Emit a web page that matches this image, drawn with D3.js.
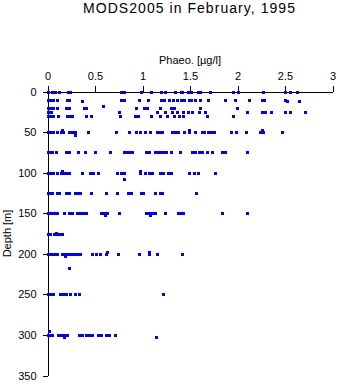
<!DOCTYPE html>
<html>
<head>
<meta charset="utf-8">
<script src="https://cdn.jsdelivr.net/npm/d3@7"></script>
<style>
  body { margin: 0; background: #fff; }
  svg text { font-family: "Liberation Sans", Arial, sans-serif; fill: #000; }
</style>
</head>
<body>
<div id="chart"></div>
<script>
// standard sampling depths [m]
const depthLevels = [0, 10, 20, 25, 30, 50, 75, 100, 125, 150, 175, 200, 250, 300];

// phaeopigment values [ug/l] per depth level
const phaeo0 = [0.01, 0.05, 0.08, 0.12, 0.22, 0.24, 0.77, 0.80, 0.98, 1.09, 1.19, 1.24, 1.34, 1.40, 1.42, 1.48, 1.51, 1.58, 1.61, 1.71, 1.95, 2.01, 2.27, 2.50, 2.55, 2.63];
const phaeo10 = [0.0, 0.03, 0.06, 0.10, 0.21, 0.23, 0.77, 0.81, 0.96, 1.06, 1.19, 1.23, 1.28, 1.32, 1.36, 1.41, 1.44, 1.49, 1.51, 1.55, 1.60, 1.69, 1.87, 1.97, 2.12, 2.26, 2.28, 2.50];
const phaeo20 = [0.0, 0.03, 0.06, 0.10, 0.19, 0.23, 0.38, 0.41, 0.93, 1.02, 1.05, 1.18, 1.30, 1.33, 1.61, 1.99];
const phaeo25 = [0.0, 0.02, 0.04, 0.75, 1.15, 1.24, 1.31, 1.36, 1.43, 1.48, 1.52, 1.59, 1.66, 2.10, 2.26, 2.29, 2.35, 2.50, 2.55, 2.71];
const phaeo30 = [0.0, 0.03, 0.06, 0.11, 0.20, 0.23, 0.26, 0.40, 0.46, 0.76, 0.92, 0.95, 1.09, 1.18, 1.26, 1.33, 1.38, 1.43, 1.68, 1.95];
const phaeo50 = [0.0, 0.03, 0.06, 0.10, 0.14, 0.16, 0.23, 0.26, 0.29, 0.43, 0.72, 0.86, 0.93, 0.97, 1.03, 1.08, 1.15, 1.18, 1.21, 1.31, 1.34, 1.37, 1.44, 1.49, 1.55, 1.63, 1.65, 1.69, 1.72, 1.75, 1.93, 1.98, 2.09, 2.24, 2.27, 2.47];
const phaeo75 = [0.0, 0.02, 0.05, 0.09, 0.19, 0.23, 0.32, 0.39, 0.50, 0.66, 0.80, 0.83, 0.86, 0.89, 1.04, 1.07, 1.13, 1.16, 1.19, 1.23, 1.25, 1.30, 1.39, 1.52, 1.55, 1.59, 1.63, 1.68, 1.73, 1.84, 1.87, 2.10];
const phaeo100 = [0.0, 0.03, 0.06, 0.10, 0.14, 0.17, 0.21, 0.23, 0.36, 0.45, 0.48, 0.53, 0.73, 0.77, 0.81, 0.97, 1.03, 1.07, 1.10, 1.18, 1.22, 1.27, 1.30, 1.49, 1.54, 1.58, 1.76];
const phaeo125 = [0.0, 0.02, 0.05, 0.10, 0.12, 0.19, 0.23, 0.29, 0.32, 0.34, 0.46, 0.62, 0.73, 0.85, 0.88, 0.98, 1.00, 1.13, 1.18, 1.21, 1.56];
const phaeo150 = [0.0, 0.01, 0.03, 0.05, 0.08, 0.10, 0.17, 0.23, 0.26, 0.31, 0.34, 0.37, 0.40, 0.56, 0.59, 0.63, 0.75, 1.04, 1.07, 1.10, 1.13, 1.24, 1.37, 1.40, 1.43, 1.84, 2.10];
const phaeo175 = [0.0, 0.03, 0.07, 0.09, 0.12, 0.15];
const phaeo200 = [0.0, 0.02, 0.05, 0.08, 0.10, 0.15, 0.18, 0.22, 0.25, 0.28, 0.31, 0.34, 0.47, 0.51, 0.55, 0.62, 0.74, 0.96, 1.07, 1.15, 1.42];
const phaeo250 = [0.0, 0.02, 0.04, 0.06, 0.13, 0.16, 0.19, 0.24, 0.29, 0.33, 1.22];
const phaeo300 = [0.0, 0.01, 0.03, 0.05, 0.11, 0.14, 0.17, 0.20, 0.33, 0.36, 0.41, 0.44, 0.47, 0.53, 0.56, 0.62, 0.65, 0.71];

// samples taken off the standard depths
const extraDepth = [12, 12, 12, 18, 47, 47, 47, 53, 98, 98, 108, 152, 152, 174, 198, 198, 203, 217, 295, 302, 303];
const extraPhaeo = [0.36, 2.52, 2.65, 0.58, 0.15, 1.49, 2.26, 0.29, 0.15, 0.97, 0.81, 0.60, 1.08, 0.09, 0.63, 1.07, 0.18, 0.23, 0.02, 0.17, 1.14];

const xTicks = [0, 0.5, 1, 1.5, 2, 2.5, 3];
const yTicks = [0, 50, 100, 150, 200, 250, 300, 350];

const byLevel = [phaeo0, phaeo10, phaeo20, phaeo25, phaeo30, phaeo50, phaeo75, phaeo100, phaeo125, phaeo150, phaeo175, phaeo200, phaeo250, phaeo300];

// flatten into points
const points = [];
depthLevels.forEach((d, i) => {
  byLevel[i].forEach(v => points.push({ depth: d, phaeo: v }));
});
extraDepth.forEach((d, i) => points.push({ depth: d, phaeo: extraPhaeo[i] }));

const width = 338, height = 384;

const svg = d3.select('#chart')
  .append('svg')
  .attr('width', width)
  .attr('height', height);

const x = d3.scaleLinear().domain([0, 3]).range([47.5, 332.5]);
const y = d3.scaleLinear().domain([0, 350]).range([91.5, 375.5]);

// title
svg.append('text')
  .attr('x', 189)
  .attr('y', 13)
  .attr('text-anchor', 'middle')
  .attr('textLength', 212)
  .attr('lengthAdjust', 'spacing')
  .style('font-size', '14px')
  .text('MODS2005 in February, 1995');

// x axis on top
const xAxis = d3.axisTop(x)
  .tickValues(xTicks)
  .tickFormat(d3.format(''))
  .tickSize(6)
  .tickSizeOuter(0)
  .tickPadding(6);

svg.append('g')
  .attr('class', 'xAxis')
  .attr('transform', `translate(0,${y(0)})`)
  .call(xAxis)
  .call(g => g.selectAll('text').style('font-size', '11px').style('font-family', '"Liberation Sans", Arial, sans-serif'));

// y axis
const yAxis = d3.axisLeft(y)
  .tickValues(yTicks)
  .tickSize(5)
  .tickSizeOuter(0)
  .tickPadding(6);

svg.append('g')
  .attr('class', 'yAxis')
  .attr('transform', `translate(${x(0)},0)`)
  .call(yAxis)
  .call(g => g.selectAll('text').style('font-size', '11px').style('font-family', '"Liberation Sans", Arial, sans-serif'));

svg.selectAll('.domain, .tick line').attr('stroke', '#000').attr('shape-rendering', 'crispEdges');

// xlabel
svg.append('text')
  .attr('x', (x(0) + x(3)) / 2)
  .attr('y', 64)
  .attr('text-anchor', 'middle')
  .style('font-size', '11px')
  .text('Phaeo. [\u00b5g/l]');

// ylabel
svg.append('text')
  .attr('transform', `translate(11,${(y(0) + y(350)) / 2}) rotate(-90)`)
  .attr('text-anchor', 'middle')
  .style('font-size', '11px')
  .text('Depth [m]');

// points
svg.append('g')
  .selectAll('rect')
  .data(points)
  .enter()
  .append('rect')
  .attr('x', d => Math.round(x(d.phaeo)) - 1)
  .attr('y', d => Math.round(y(d.depth)) - 1)
  .attr('width', 3)
  .attr('height', 3)
  .attr('fill', '#0000ff')
  .attr('shape-rendering', 'crispEdges');
</script>
</body>
</html>
